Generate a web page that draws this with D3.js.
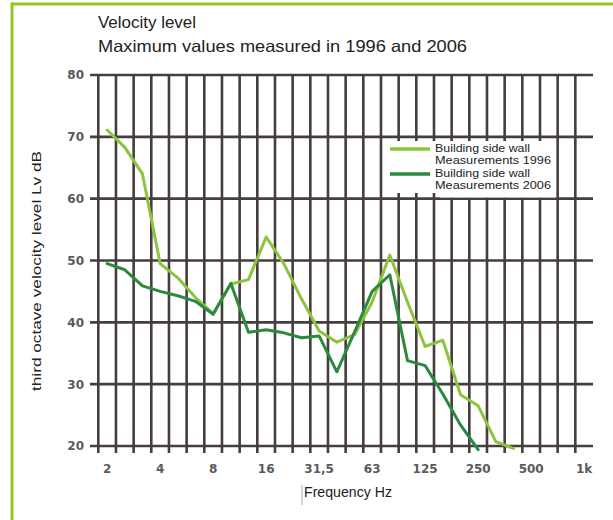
<!DOCTYPE html>
<html>
<head>
<meta charset="utf-8">
<script src="https://cdn.jsdelivr.net/npm/d3@7"></script>
<style>
  html, body { margin: 0; padding: 0; background: #fff; }
  svg { display: block; }
</style>
</head>
<body>
<svg id="chart" width="613" height="520"></svg>
<script>
// ---- data ----
const bands = ["2","2.5","3.15","4","5","6.3","8","10","12.5","16","20","25","31.5","40","50","63","80","100","125","160","200","250","315","400","500","630","800","1k"];
const tickBands = ["2","4","8","16","31.5","63","125","250","500","1k"];
const tickTexts = ["2","4","8","16","31,5","63","125","250","500","1k"];
const yTicks = [20, 30, 40, 50, 60, 70, 80];
const values1996 = [71.1, 68.3, 64.0, 49.5, 47.2, 44.0, 41.4, 46.2, 46.9, 53.8, 49.5, 43.8, 38.6, 36.8, 38.0, 43.3, 50.9, 43.3, 36.1, 37.1, 28.3, 26.5, 20.7, 19.6];
const values2006 = [49.5, 48.5, 45.9, 45.0, 44.3, 43.4, 41.3, 46.3, 38.4, 38.8, 38.3, 37.5, 37.8, 32.0, 38.4, 45.0, 47.7, 33.8, 33.0, 28.4, 23.4, 19.4];
const seriesNames = [["Building side wall", "Measurements 1996"], ["Building side wall", "Measurements 2006"]];

(function () {
// ---- layout ----
const svg = d3.select("#chart");
const pLeft = 98.3, pRight = 593, pTop = 75, pBottom = 446, gridLeft = 90;
const colors = ["#8cc43e", "#2b8a3d"];
const gridColor = "#463d3d";

const x = d3.scaleBand().domain(bands).range([pLeft, pRight]).padding(0);
const y = d3.scaleLinear().domain([20, 80]).range([pBottom, pTop]);
const cx = b => x(b) + x.bandwidth() / 2;

// green frame
svg.append("line").attr("x1", 11).attr("x2", 613).attr("y1", 4).attr("y2", 4)
  .attr("stroke", "#9cc41f").attr("stroke-width", 3);
svg.append("line").attr("x1", 12).attr("x2", 12).attr("y1", 2.5).attr("y2", 520)
  .attr("stroke", "#9cc41f").attr("stroke-width", 3);

// titles
svg.append("text").attr("x", 98).attr("y", 28).text("Velocity level")
  .attr("font-family", "Liberation Sans, Arial, sans-serif").attr("font-size", 16.5)
  .attr("fill", "#222").attr("textLength", 98).attr("lengthAdjust", "spacingAndGlyphs");
svg.append("text").attr("x", 98).attr("y", 52).text("Maximum values measured in 1996 and 2006")
  .attr("font-family", "Liberation Sans, Arial, sans-serif").attr("font-size", 16.5)
  .attr("fill", "#222").attr("textLength", 369).attr("lengthAdjust", "spacingAndGlyphs");

// grid: vertical band boundaries
svg.append("g").selectAll("line").data(bands).join("line")
  .attr("x1", d => x(d)).attr("x2", d => x(d))
  .attr("y1", pTop).attr("y2", pBottom + 7)
  .attr("stroke", gridColor).attr("stroke-width", 2.6);

// grid: horizontal
svg.append("g").selectAll("line").data(yTicks).join("line")
  .attr("x1", gridLeft).attr("x2", pRight)
  .attr("y1", d => y(d)).attr("y2", d => y(d))
  .attr("stroke", gridColor).attr("stroke-width", 2.6);

// y axis labels
const yAxis = svg.append("g").attr("transform", `translate(${gridLeft},0)`)
  .call(d3.axisLeft(y).tickValues(yTicks).tickSize(0).tickPadding(6).tickFormat(d3.format("d")));
yAxis.select(".domain").remove();
yAxis.selectAll("text").attr("font-family", "DejaVu Sans, sans-serif").attr("font-weight", "bold")
  .attr("font-size", 12).attr("fill", "#5a5a5a");

// x axis labels (clipped at the right end of the grid)
svg.append("clipPath").attr("id", "xclip").append("rect")
  .attr("x", 0).attr("y", 440).attr("width", pRight).attr("height", 60);
const xWrap = svg.append("g").attr("clip-path", "url(#xclip)");
const xAxis = xWrap.append("g").attr("transform", `translate(0,${pBottom})`)
  .call(d3.axisBottom(x).tickValues(tickBands).tickSize(0).tickPadding(18)
    .tickFormat(d => tickTexts[tickBands.indexOf(d)]));
xAxis.select(".domain").remove();
xAxis.selectAll("text").attr("font-family", "DejaVu Sans, sans-serif").attr("font-weight", "bold")
  .attr("font-size", 12).attr("fill", "#5a5a5a");

// axis titles
svg.append("text").attr("transform", "translate(41,271) rotate(-90)")
  .attr("text-anchor", "middle").text("third octave velocity level Lv dB")
  .attr("font-family", "Liberation Sans, Arial, sans-serif").attr("font-size", 13.5)
  .attr("fill", "#222").attr("textLength", 240).attr("lengthAdjust", "spacingAndGlyphs");
svg.append("line").attr("x1", 302).attr("x2", 302).attr("y1", 485).attr("y2", 505)
  .attr("stroke", "#aaa").attr("stroke-width", 1);
svg.append("text").attr("x", 304).attr("y", 497).text("Frequency Hz")
  .attr("font-family", "Liberation Sans, Arial, sans-serif").attr("font-size", 14)
  .attr("fill", "#222").attr("textLength", 88).attr("lengthAdjust", "spacingAndGlyphs");

// series lines
const line = d3.line().x((d, i) => cx(bands[i])).y(d => y(d)).curve(d3.curveLinear);
[values1996, values2006].forEach((vals, k) => {
  svg.append("path").datum(vals).attr("d", line)
    .attr("fill", "none").attr("stroke", colors[k]).attr("stroke-width", 3)
    .attr("stroke-linejoin", "round").attr("stroke-linecap", "round");
});

// legend
const lg = svg.append("g");
lg.append("rect").attr("x", 383).attr("y", 141).attr("width", 173).attr("height", 52).attr("fill", "#fff");
lg.append("rect").attr("x", 440).attr("y", 141).attr("width", 116).attr("height", 56.5).attr("fill", "#fff");
seriesNames.forEach((names, k) => {
  const yy = 149 + k * 25;
  lg.append("line").attr("x1", 390).attr("x2", 430).attr("y1", yy).attr("y2", yy)
    .attr("stroke", colors[k]).attr("stroke-width", 3.5);
  names.forEach((s, j) => {
    lg.append("text").attr("x", 435).attr("y", yy + 3 + j * 12).text(s)
      .attr("font-family", "Liberation Sans, Arial, sans-serif").attr("font-size", 11.5)
      .attr("fill", "#222")
      .attr("textLength", j === 0 ? 95 : 116).attr("lengthAdjust", "spacingAndGlyphs");
  });
});
})();
</script>
</body>
</html>
